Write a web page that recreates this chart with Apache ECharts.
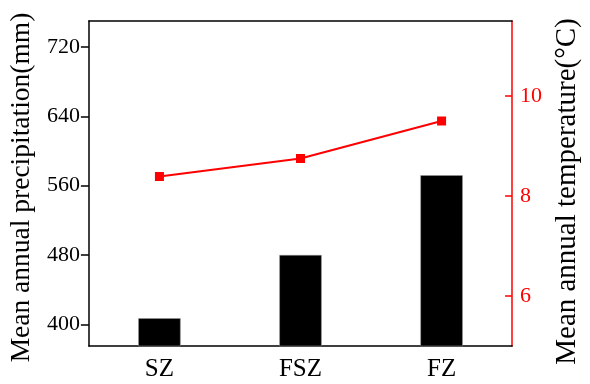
<!DOCTYPE html>
<html>
<head>
<meta charset="utf-8">
<script src="https://cdn.jsdelivr.net/npm/echarts@6/dist/echarts.min.js"></script>
<style>html,body{margin:0;padding:0;background:#fff}#c{width:590px;height:384px}</style>
</head>
<body>
<div id="c"></div>
<script>
var categories = ['SZ', 'FSZ', 'FZ'];
var precipitation = [407, 480, 572];
var temperature = [8.39, 8.75, 9.5];
var precipTicks = [400, 480, 560, 640, 720];
var tempTicks = [6, 8, 10];

var font = '"Liberation Serif", "Times New Roman", Times, serif';
var chart = echarts.init(document.getElementById('c'));
chart.setOption({
  animation: false,
  grid: { left: 86, right: 67, top: 21, bottom: 38 },
  xAxis: [{
    type: 'category',
    data: categories,
    axisLine: { lineStyle: { color: '#000', width: 1.5 } },
    axisTick: { show: false },
    axisLabel: { color: '#000', fontFamily: font, fontSize: 25, margin: 11 }
  }, {
    type: 'category',
    position: 'top',
    data: categories,
    axisLine: { lineStyle: { color: '#000', width: 1.5 } },
    axisTick: { show: false },
    axisLabel: { show: false }
  }],
  yAxis: [{
    type: 'value',
    min: 375, max: 750,
    position: 'left',
    name: 'Mean annual precipitation(mm)',
    nameLocation: 'middle',
    nameGap: 48,
    nameTextStyle: { color: '#000', fontFamily: font, fontSize: 27.5, padding: [0, 8, 0, 0] },
    axisLine: { show: true, lineStyle: { color: '#000', width: 1.5 } },
    axisTick: { show: true, length: 8, inside: false, customValues: precipTicks, lineStyle: { color: '#000', width: 1.5 } },
    axisLabel: { color: '#000', fontFamily: font, fontSize: 22, margin: 9, customValues: precipTicks },
    splitLine: { show: false }
  }, {
    type: 'value',
    min: 5, max: 11.5,
    position: 'right',
    name: 'Mean annual temperature(°C)',
    nameLocation: 'middle',
    nameGap: 35,
    nameTextStyle: { color: '#000', fontFamily: font, fontSize: 29, padding: [0, 16, 0, 0] },
    axisLine: { show: true, lineStyle: { color: '#ff0000', width: 1.5 } },
    axisTick: { show: true, length: 7, inside: true, customValues: tempTicks, lineStyle: { color: '#ff0000', width: 1.5 } },
    axisLabel: { color: '#ff0000', fontFamily: font, fontSize: 22, margin: 8, customValues: tempTicks },
    splitLine: { show: false }
  }],
  series: [{
    type: 'bar',
    data: precipitation,
    yAxisIndex: 0,
    barWidth: '30%',
    itemStyle: { color: '#000', borderColor: '#999', borderWidth: 0.5 }
  }, {
    type: 'line',
    data: temperature,
    yAxisIndex: 1,
    symbol: 'rect',
    symbolSize: 9,
    lineStyle: { color: '#ff0000', width: 2 },
    itemStyle: { color: '#ff0000' }
  }]
});
</script>
</body>
</html>
